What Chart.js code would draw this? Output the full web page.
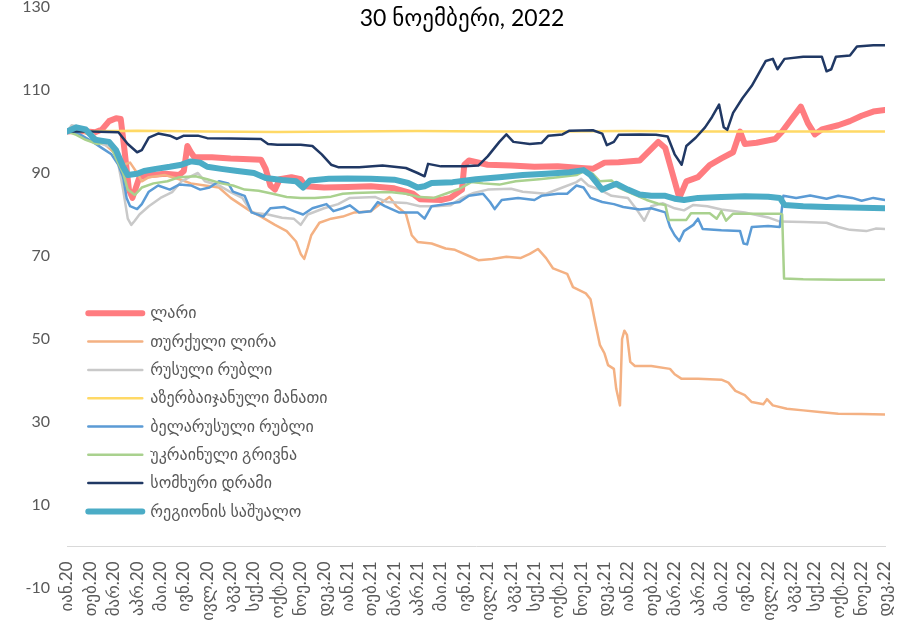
<!DOCTYPE html>
<html>
<head>
<meta charset="utf-8">
<script src="https://cdn.jsdelivr.net/npm/chart.js@4/dist/chart.umd.min.js"></script>
<style>
  body { margin: 0; background: #fff; }
  #wrap { width: 897px; height: 628px; }
</style>
</head>
<body>
<div id="wrap"><canvas id="fx" width="897" height="628"></canvas></div>
<script>
var title = "30 ნოემბერი, 2022";

// tick labels, one per month start (x = months since jan 2020)
var monthLabels = ["იან.20", "თებ.20", "მარ.20", "აპრ.20", "მაი.20", "ივნ.20", "ივლ.20", "აგვ.20", "სექ.20", "ოქტ.20", "ნოე.20", "დეკ.20",
    "იან.21", "თებ.21", "მარ.21", "აპრ.21", "მაი.21", "ივნ.21", "ივლ.21", "აგვ.21", "სექ.21", "ოქტ.21", "ნოე.21", "დეკ.21",
    "იან.22", "თებ.22", "მარ.22", "აპრ.22", "მაი.22", "ივნ.22", "ივლ.22", "აგვ.22", "სექ.22", "ოქტ.22", "ნოე.22", "დეკ.22"];

var names = ["ლარი", "თურქული ლირა", "რუსული რუბლი", "აზერბაიჯანული მანათი", "ბელარუსული რუბლი", "უკრაინული გრივნა", "სომხური დრამი", "რეგიონის საშუალო"];
var colors = ["#FF7C80", "#F4B183", "#C9C9C9", "#FFD966", "#5B9BD5", "#A9D18E", "#203864", "#4BACC6"];
var widths = [6, 2.5, 2.5, 2.5, 2.5, 2.5, 2.5, 6];

// [month, index value]
var lari = [[0,100],[0.5,100.2],[1.2,99.8],[1.5,100.5],[1.8,102.5],[2.1,103.2],[2.3,103],[2.45,96],[2.65,86],[2.8,84],[2.95,86.5],[3.1,89],[3.6,89.5],[4.2,89.8],[4.8,89.5],[5.0,90.5],[5.15,96.5],[5.3,95],[5.45,93.8],[6.2,93.8],[7.0,93.5],[7.8,93.3],[8.3,93.2],[8.5,91],[8.7,87],[8.9,86],[9.1,88.5],[9.6,89],[10.0,88.5],[10.2,86.8],[11,86.5],[12,86.6],[13,86.8],[14,86.3],[14.8,85],[15.1,83.7],[16,83.5],[16.4,84],[16.9,86],[17.0,92],[17.2,93],[18,92],[19,91.8],[20,91.5],[21,91.6],[22,91.2],[22.5,91],[23,92.5],[23.6,92.6],[24.5,93],[25.3,97.5],[25.6,96],[25.9,90],[26.2,84],[26.5,88],[27.0,89],[27.5,91.9],[28.0,93.5],[28.5,95],[28.8,100],[29.0,97],[29.5,97.3],[30.3,98.2],[30.6,100],[31.0,103],[31.4,106],[31.7,102],[32.0,99.3],[32.3,100.5],[33,101.5],[33.5,102.5],[34,103.8],[34.5,104.8],[35,105.2]];

var lira = [[0,100],[0.5,100.5],[1.0,99],[1.5,97.5],[2.0,95],[2.4,92],[2.7,92.5],[3.0,90],[3.2,88],[3.5,89],[4.2,89.5],[4.8,88.5],[5.3,87.5],[5.9,87],[6.5,86.5],[7.0,84],[7.4,82.5],[7.8,81],[8.3,79.5],[8.9,77.5],[9.4,76],[9.8,73.5],[10.0,70.5],[10.15,69.3],[10.3,72],[10.45,75],[10.8,78],[11.3,79],[11.8,79.5],[12.3,80.5],[13.0,80.8],[13.5,83],[13.8,84.2],[14.1,82],[14.5,80.2],[14.75,75],[15.0,73.4],[15.6,73],[16.2,71.8],[16.6,71.5],[17.2,70],[17.6,69],[18.2,69.3],[18.8,69.8],[19.4,69.5],[19.8,70.5],[20.15,71.7],[20.5,69.5],[20.8,67],[21.4,65.7],[21.65,62.5],[22.2,61],[22.4,59.6],[22.6,54],[22.8,48.6],[23.0,46.5],[23.15,43.7],[23.4,42.8],[23.5,38],[23.66,34],[23.75,50],[23.85,52],[23.96,51],[24.1,44.5],[24.3,43.5],[25.0,43.5],[25.8,42.8],[26.0,41.5],[26.3,40.4],[27.0,40.4],[28.0,40.2],[28.3,39.5],[28.6,37.5],[29.0,36.5],[29.3,34.8],[29.8,34.3],[29.95,35.5],[30.2,34],[30.8,33.2],[31.5,32.8],[32.2,32.4],[33,32],[34,31.9],[35,31.8]];

var ruble = [[0,100],[0.2,101.5],[0.6,101],[1.0,100],[1.5,97],[2.0,96],[2.2,92],[2.4,86],[2.6,79],[2.75,77.5],[2.9,78.5],[3.1,80],[3.5,82],[4.0,84],[4.5,85.4],[4.9,88],[5.4,89.5],[5.6,90],[5.9,88],[6.5,87],[7.0,85.4],[7.5,84],[7.9,80.5],[8.6,80],[9.2,79.2],[9.7,79],[10.0,77.5],[10.3,80],[11,81.5],[11.6,82.5],[12.1,84],[13.2,84.2],[13.7,83],[14.5,82.8],[15.1,82],[15.8,82],[16.4,82.2],[16.9,84],[17.4,85.2],[18,86],[19,86.2],[19.5,85.5],[20.5,85],[21.2,86.5],[21.8,87.8],[22.0,88.6],[22.3,87],[22.8,86],[23.3,84.5],[24.0,84],[24.4,81],[24.7,78.5],[25.0,82],[25.5,82.7],[26.0,81.5],[26.4,81],[26.8,82.3],[27.4,82],[28,81.2],[29,80.5],[30,79.3],[30.5,78.3],[31.5,78.2],[32.5,78],[33.0,77],[33.5,76.3],[34.2,76],[34.6,76.6],[35,76.5]];

var manat = [[0,100],[3,100.2],[6,100],[9,99.9],[12,100],[15,100.1],[18,100],[21,100],[24,100.1],[27,100],[30,100],[33,100],[35,100]];

var belrub = [[0,100],[0.5,99.5],[1.1,97.5],[1.5,96],[1.9,94.5],[2.2,92],[2.4,89],[2.55,84],[2.7,82],[3.0,81.3],[3.2,82.5],[3.5,85.5],[3.9,87],[4.4,86],[4.8,87.2],[5.3,87],[5.7,86],[6.1,86.5],[6.5,88],[6.9,87.5],[7.1,85.5],[7.6,84.5],[7.9,80.5],[8.4,79.5],[8.7,81.5],[9.3,81.8],[9.7,80.8],[10.1,80],[10.5,81.5],[11.1,82.5],[11.4,80.8],[11.8,81.5],[12.1,82.2],[12.5,80.5],[13.0,80.8],[13.3,83],[13.6,82],[14.2,80.5],[15.0,80.5],[15.3,79],[15.6,82],[16.2,82.5],[16.8,83],[17.2,84.5],[17.8,85],[18.1,83],[18.3,81.3],[18.6,83.5],[19.3,84],[20,83.5],[20.3,84.5],[21,85],[21.4,85],[21.8,87],[22.1,86.5],[22.4,84],[22.9,83],[23.4,82.5],[23.8,81.8],[24.5,81.2],[25.0,81.5],[25.6,80.5],[25.8,77],[26.0,75],[26.2,73.6],[26.4,76],[26.8,77.5],[27.0,79],[27.2,76.5],[28,76.2],[28.8,76],[28.95,73],[29.1,72.8],[29.3,77],[30,77.2],[30.5,77],[30.65,84.5],[31.2,84],[31.8,84.6],[32.5,83.8],[33,84.5],[33.6,84],[34,83.3],[34.5,84],[35,83.5]];

var hryvnia = [[0,100],[0.4,99.2],[0.8,98],[1.3,97],[1.8,97.5],[2.1,93.5],[2.4,90],[2.6,86],[2.9,84.7],[3.2,86.5],[3.7,87.5],[4.3,88],[4.8,89],[5.5,89.2],[6.0,88.5],[6.6,87.5],[7.1,87],[7.6,86],[8.2,85.7],[8.8,85],[9.4,84.2],[10.0,84],[10.6,84],[11.3,84.3],[11.8,85],[12.3,85.2],[13,85.3],[13.8,85.4],[14.5,85],[15.0,84.3],[15.7,84],[16.2,85],[16.8,86.2],[17.3,87.8],[17.8,87.5],[18.5,87.2],[19.2,88],[20.2,88.5],[21,89],[21.8,89.5],[22.2,90.7],[22.5,89.8],[22.8,88],[23.3,88.2],[23.6,86.5],[24.2,85],[24.8,83.5],[25.3,82.6],[25.6,82.3],[25.75,78.7],[26.5,78.7],[26.7,80.3],[27.5,80.3],[27.8,79],[28,80.8],[28.2,78.5],[28.5,80.2],[29.5,80.2],[30.5,80.2],[30.6,80],[30.68,64.6],[31.5,64.4],[33,64.3],[35,64.3]];

var dram = [[0,100],[1,100],[2.2,99.8],[2.6,97],[3.0,95],[3.2,95.5],[3.5,98.5],[3.9,99.5],[4.4,99],[4.7,98.2],[5.0,99],[5.6,99],[6.0,98.4],[7,98.3],[8.3,98.2],[8.6,97],[9,96.8],[10,96.8],[10.5,96.5],[10.9,94.5],[11.3,92],[11.6,91.4],[12.5,91.4],[13.5,91.8],[14.5,91.2],[15.0,90],[15.3,89.2],[15.45,92.2],[16,91.6],[17,91.6],[17.6,91.8],[18.0,94],[18.5,97.5],[18.8,99.3],[19.1,97.5],[19.8,97],[20.3,97.2],[20.6,99],[21.2,99.3],[21.5,100.2],[22.5,100.3],[22.9,99.5],[23.1,96.7],[23.4,97.5],[23.6,99.2],[24.5,99.3],[25.2,99.2],[25.7,98.8],[26.0,94.5],[26.3,92],[26.5,96.5],[26.9,98.5],[27.3,101],[27.6,103.5],[27.9,106.5],[28.1,101],[28.25,100.4],[28.5,104.5],[28.9,108],[29.3,111],[29.6,114],[29.9,117],[30.2,117.5],[30.4,115],[30.7,117.5],[31.5,118],[32.3,118],[32.5,114.5],[32.7,115],[32.9,118],[33.5,118.3],[33.8,120.5],[34.5,120.8],[35,120.8]];

var region = [[0,100],[0.4,101],[0.8,100.5],[1.2,98],[1.8,97.5],[2.1,95.5],[2.4,91.5],[2.6,89.5],[3.0,89.8],[3.3,90.5],[3.8,91],[4.4,91.5],[4.9,92],[5.3,92.8],[5.7,92.5],[6.0,91.5],[6.6,91],[7.3,90.5],[8.0,90],[8.5,88.8],[9.2,88.3],[9.8,88],[10.1,86.5],[10.4,88.2],[11.2,88.6],[12.0,88.7],[13,88.6],[14,88.4],[14.6,87.6],[15.0,86.5],[15.3,86.8],[15.6,87.6],[16.5,87.8],[17.5,88.5],[18.5,89],[19.5,89.5],[20.5,89.8],[21.5,90.2],[22.1,90.7],[22.4,89.5],[22.9,86],[23.5,87.4],[24,86],[24.5,84.8],[25.0,84.5],[25.6,84.5],[26.0,83.8],[26.4,83.5],[27,84],[28,84.2],[29,84.4],[30,84.3],[30.5,84],[30.7,82.3],[31.5,82],[32.5,81.8],[33.5,81.7],[35,81.5]];

var series = [lari, lira, ruble, manat, belrub, hryvnia, dram, region];

var fontStack = "Lato, 'DejaVu Sans', sans-serif";

var datasets = [];
for (i = 0; i < series.length; i++) {
    datasets.push({
        label: names[i],
        data: series[i].map(p => ({ x: p[0], y: p[1] })),
        borderColor: colors[i],
        backgroundColor: colors[i],
        borderWidth: widths[i],
        borderJoinStyle: 'round',
        borderCapStyle: 'round',
        pointRadius: 0,
        tension: 0,
        order: series.length - i   // later series on top, like excel
    });
}

// title over the plot + legend moved into the empty lower-left area
var extras = {
    id: 'extras',
    afterLayout: function (chart) {
        var lg = chart.legend;
        var w = lg.width, h = lg.height;
        lg.left = 76; lg.top = 293;
        lg.right = lg.left + w; lg.bottom = lg.top + h;
    },
    afterDraw: function (chart) {
        var ctx = chart.ctx;
        ctx.save();
        ctx.font = "23px " + fontStack;
        ctx.fillStyle = "#000000";
        ctx.textAlign = "center";
        ctx.textBaseline = "middle";
        ctx.fillText(title, 462, 19);
        ctx.restore();
    }
};

var ctx = document.getElementById('fx').getContext('2d');
var myChart = new Chart(ctx, {
    type: 'line',
    data: { datasets: datasets },
    options: {
        responsive: false,
        animation: false,
        layout: { padding: { left: 0, right: 12, top: 7, bottom: 40 } },
        plugins: {
            tooltip: { enabled: false },
            legend: {
                position: 'chartArea',
                align: 'start',
                labels: {
                    boxWidth: 54,
                    boxHeight: 0,
                    padding: 12.3,
                    color: '#595959',
                    font: { family: fontStack, size: 16 },
                    sort: (a, b) => a.datasetIndex - b.datasetIndex
                }
            }
        },
        scales: {
            x: {
                type: 'linear',
                position: { y: 0 },
                min: 0,
                max: 35,
                grid: { drawOnChartArea: false, drawTicks: false },
                border: { display: true, color: '#D9D9D9', width: 1 },
                afterBuildTicks: function (s) {
                    s.ticks = monthLabels.map((t, k) => ({ value: k }));
                },
                afterFit: function (s) {
                    s.paddingLeft = 0;
                    s.paddingRight = 0;
                },
                ticks: {
                    autoSkip: false,
                    maxRotation: 90,
                    minRotation: 90,
                    padding: 15,
                    color: '#595959',
                    font: { family: fontStack, size: 17 },
                    callback: function (v) { return monthLabels[v]; }
                }
            },
            y: {
                min: -10,
                max: 130,
                grid: { display: false, drawTicks: false },
                border: { display: false },
                afterFit: function (s) {
                    s.width = 67;
                    s.paddingTop = 0;
                    s.paddingBottom = 0;
                },
                ticks: {
                    stepSize: 20,
                    padding: 17,
                    color: '#595959',
                    font: { family: fontStack, size: 16 }
                }
            }
        }
    },
    plugins: [extras]
});
</script>
</body>
</html>
